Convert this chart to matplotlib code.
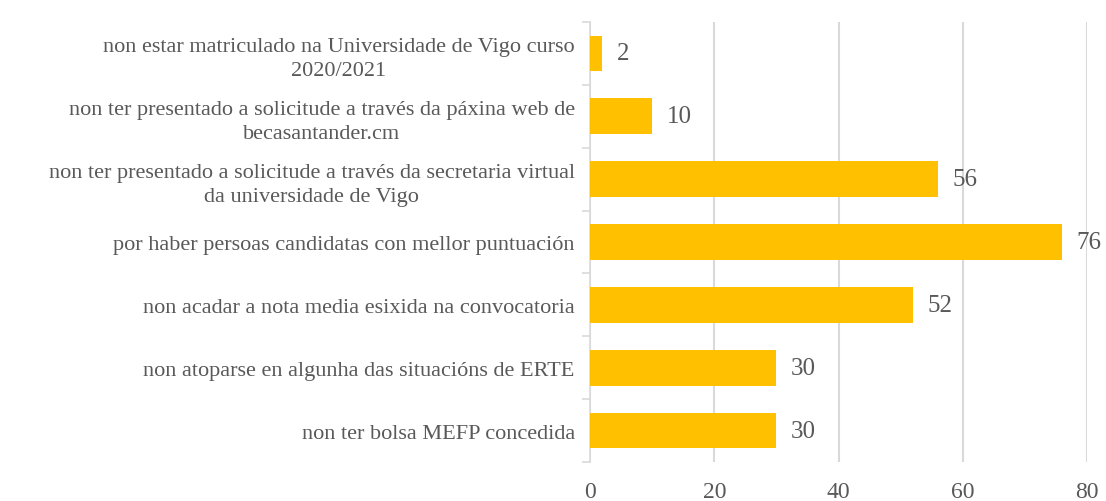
import numpy as np
import matplotlib.pyplot as plt

# motivos de denegación e número de casos
motivos = [
    'non estar matriculado na Universidade de Vigo curso\n2020/2021',
    'non ter presentado a solicitude a través da páxina web de\nbecasantander.cm',
    'non ter presentado a solicitude a través da secretaria virtual\nda universidade de Vigo',
    'por haber persoas candidatas con mellor puntuación',
    'non acadar a nota media esixida na convocatoria',
    'non atoparse en algunha das situacións de ERTE',
    'non ter bolsa MEFP concedida',
]
casos = [2, 10, 56, 76, 52, 30, 30]

plt.rcParams['font.family'] = ['Liberation Serif', 'DejaVu Serif']
cor_texto = '#595959'

fig = plt.figure(figsize=(11.06, 5.02), dpi=100)
ax = fig.add_axes([0.5335, 0.0777, 0.4495, 0.8765])

y = np.arange(len(motivos))[::-1]
barras = ax.barh(y, casos, height=0.57, color='#FFC000', zorder=3)

for b, v in zip(barras, casos):
    ax.text(b.get_width() + 2.3, b.get_y() + b.get_height() / 2, str(v),
            va='center', ha='left', fontsize=18, color=cor_texto)

ax.set_xlim(0, 80)
ax.set_ylim(-0.5, len(motivos) - 0.5)
ax.set_xticks([0, 20, 40, 60, 80])
ax.set_yticks(y)
ax.set_yticklabels(motivos, fontsize=16, color=cor_texto,
                   multialignment='center', linespacing=1.35)
ax.set_yticks(np.arange(-0.5, len(motivos)), minor=True)

ax.xaxis.grid(True, color='#D9D9D9', linewidth=1.5, zorder=0)
ax.tick_params(axis='x', length=0, pad=14, labelsize=17, labelcolor=cor_texto)
ax.tick_params(axis='y', which='major', length=0, pad=11)
ax.tick_params(axis='y', which='minor', length=6, color='#D9D9D9', width=1.2)

for lado in ['top', 'right', 'bottom']:
    ax.spines[lado].set_visible(False)
ax.spines['left'].set_color('#D9D9D9')
ax.spines['left'].set_linewidth(1.2)

fig.savefig('out.png', dpi=100)
